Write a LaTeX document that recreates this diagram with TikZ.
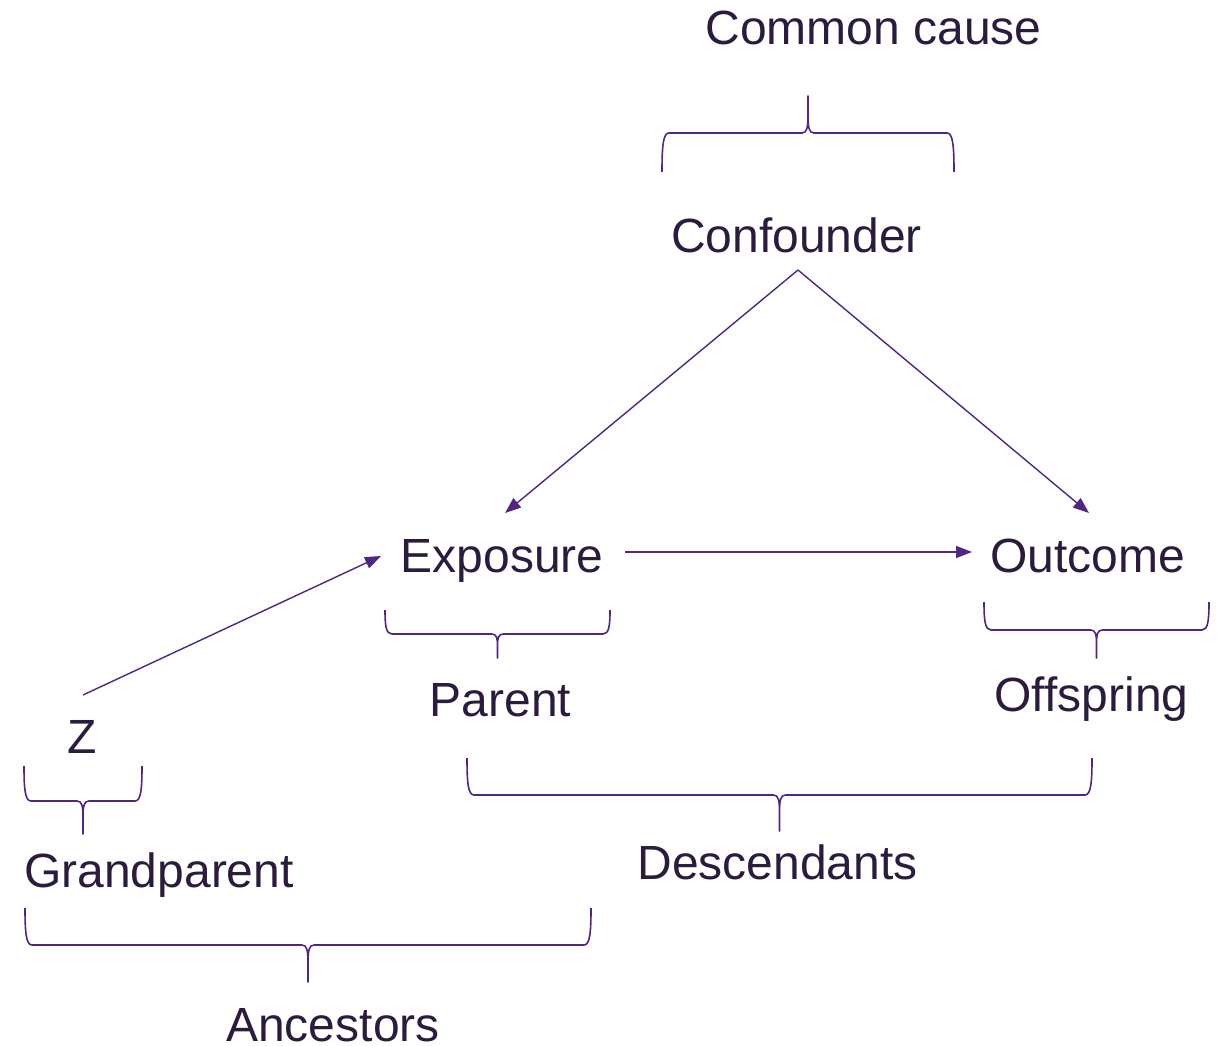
\documentclass[tikz,border=0pt]{standalone}
\usepackage{fontspec}
\setmainfont{Liberation Sans}
\usetikzlibrary{arrows.meta}

\definecolor{linepurple}{HTML}{4F2683}
\definecolor{textink}{HTML}{2B1B3D}

\tikzset{
  termtext/.style={font=\fontsize{48}{52}\selectfont, text=textink, anchor=base, inner sep=0pt},
  causal/.style={draw=linepurple, line width=1.4pt, -{Triangle[length=16pt,width=12pt]}},
  bracket/.style={draw=linepurple, line width=1.6pt, line join=round}
}

% Curly brace: #1,#2 = ends (x), #3 = y of the ends, #4 = y of the bar, #5 = y of the tip
\newcommand{\drawbrace}[5]{%
  \pgfmathsetmacro\bxm{(#1+#2)/2}%
  \pgfmathsetmacro\bya{#4+0.35*(#3-#4)}%
  \pgfmathsetmacro\byc{#4+0.5*(#5-#4)}%
  \pgfmathsetmacro\byd{#4+0.15*(#5-#4)}%
  \draw[bracket] (#1,#3) .. controls (#1,\bya) and (#1+1,#4) .. (#1+7,#4)
    -- (\bxm-6,#4) .. controls (\bxm-1,#4) and (\bxm,\byd) .. (\bxm,\byc)
    -- (\bxm,#5) -- (\bxm,\byc)
    .. controls (\bxm,\byd) and (\bxm+1,#4) .. (\bxm+6,#4)
    -- (#2-7,#4) .. controls (#2-1,#4) and (#2,\bya) .. (#2,#3);%
}

\begin{document}
\begin{tikzpicture}[x=1pt,y=-1pt]
  \useasboundingbox (0,0) rectangle (1221,1046);

  % terms
  \node[termtext] (common)  at (873.5,45)  {Common cause};
  \node[termtext] (conf)    at (796.5,252) {Confounder};
  \node[termtext] (expo)    at (502,572)   {Exposure};
  \node[termtext] (outc)    at (1087.5,572){Outcome};
  \node[termtext] (parent)  at (500.5,716) {Parent};
  \node[termtext] (offs)    at (1091.5,711){Offspring};
  \node[termtext] (z)       at (82.5,753)  {Z};
  \node[termtext] (grand)   at (159,887)   {Grandparent};
  \node[termtext] (desc)    at (777.5,879) {Descendants};
  \node[termtext] (anc)     at (333,1041)  {Ancestors};

  % connector end points
  \coordinate (conf-out)  at (798,270);
  \coordinate (expo-top)  at (505,513);
  \coordinate (outc-top)  at (1089,513);
  \coordinate (expo-right) at (625,552);
  \coordinate (outc-left) at (972,552);
  \coordinate (z-top)     at (83,695);
  \coordinate (expo-left) at (381,556);

  % causal arrows
  \draw[causal] (conf-out) -- (expo-top);
  \draw[causal] (conf-out) -- (outc-top);
  \draw[causal] (expo-right) -- (outc-left);
  \draw[causal] (z-top) -- (expo-left);

  % braces
  \drawbrace{662}{954}{172}{133}{96}
  \drawbrace{385}{610}{610}{634}{658}
  \drawbrace{984}{1209}{602}{630}{658}
  \drawbrace{24}{142}{766}{801}{834}
  \drawbrace{467}{1092}{758}{795}{831}
  \drawbrace{25}{591}{908}{945}{982}
\end{tikzpicture}
\end{document}
